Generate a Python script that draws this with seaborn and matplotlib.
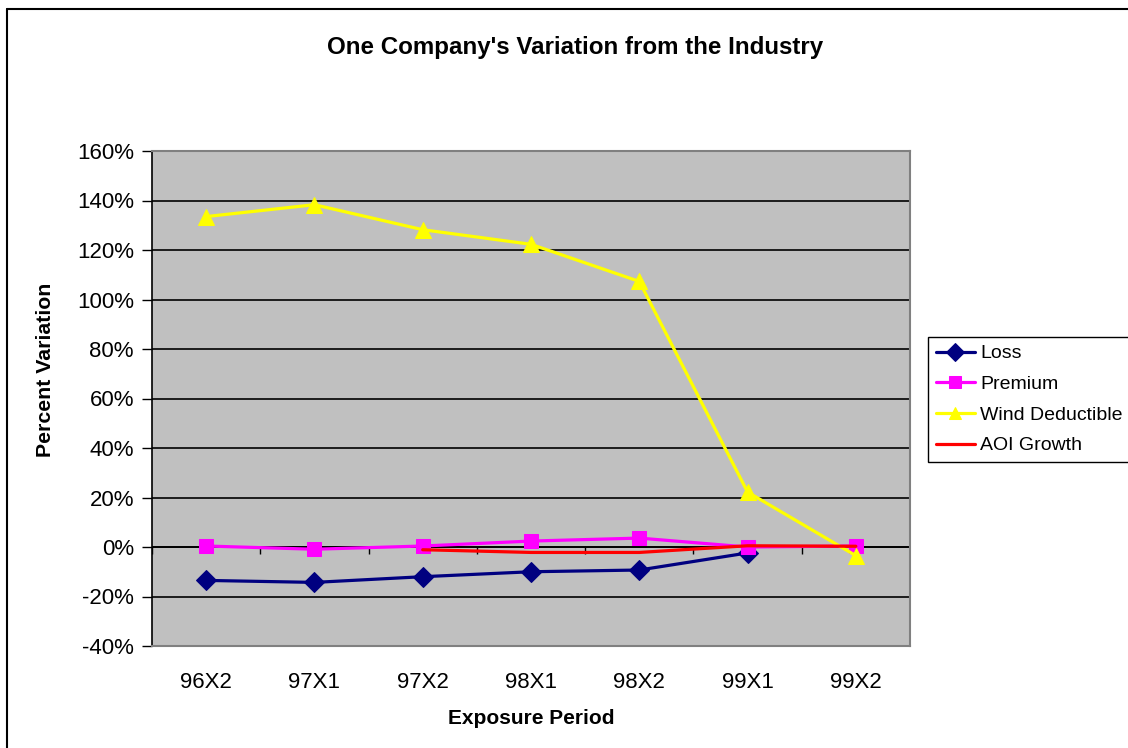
import numpy as np
import pandas as pd
import matplotlib
matplotlib.use("Agg")
import matplotlib.pyplot as plt
import matplotlib.ticker as mtick
from matplotlib.lines import Line2D
import seaborn as sns

# ---------------- DATA ----------------
periods = ["96X2", "97X1", "97X2", "98X1", "98X2", "99X1", "99X2"]
loss = [-0.135, -0.143, -0.120, -0.100, -0.093, -0.024, np.nan]
premium = [0.004, -0.009, 0.004, 0.024, 0.036, 0.000, 0.004]
wind_deductible = [1.335, 1.383, 1.282, 1.223, 1.073, 0.222, -0.035]
aoi_growth = [np.nan, np.nan, -0.011, -0.022, -0.022, 0.005, 0.003]
y_ticks = [-0.4, -0.2, 0.0, 0.2, 0.4, 0.6, 0.8, 1.0, 1.2, 1.4, 1.6]
# --------------------------------------

series = [
    ("Loss", loss, "#000080", "D", 10),
    ("Premium", premium, "#FF00FF", "s", 10),
    ("Wind Deductible", wind_deductible, "#FFFF00", "^", 11),
    ("AOI Growth", aoi_growth, "#FF0000", "", 0),
]

sns.set_style("white")
plt.rcParams["font.family"] = ["Liberation Sans", "DejaVu Sans"]
plt.rcParams["text.color"] = "black"
plt.rcParams["xtick.color"] = "black"
plt.rcParams["ytick.color"] = "black"
plt.rcParams["axes.unicode_minus"] = False

fig = plt.figure(figsize=(11.28, 7.48), dpi=100)
ax = fig.add_axes([152 / 1128, 1 - 646 / 748, (910 - 152) / 1128, (646 - 151) / 748])
ax.set_facecolor("#C0C0C0")

for name, vals, color, marker, ms in series:
    df = pd.DataFrame({"period": periods, "value": vals})
    sns.lineplot(
        data=df, x="period", y="value", ax=ax, sort=False,
        color=color, lw=2.3, marker=marker if marker else None,
        markersize=ms, markeredgecolor=color, markerfacecolor=color,
        label=name, zorder=3,
    )

ax.set_xlim(-0.5, 6.5)
ax.set_ylim(-0.4, 1.6)
ax.set_yticks(y_ticks)
ax.yaxis.set_major_formatter(mtick.PercentFormatter(1.0, decimals=0))
ax.yaxis.grid(True, color="black", lw=1.2)
ax.set_axisbelow(True)
ax.axhline(0, color="black", lw=1.3, zorder=2)
# category tick marks on the zero line
ax.vlines(np.arange(-0.5, 7, 1), -0.027, 0, color="black", lw=1, zorder=2)

ax.tick_params(axis="y", length=7, width=1, color="black", pad=6, labelsize=16, left=True)
ax.tick_params(axis="x", length=0, pad=19, labelsize=16)
ax.set_xlabel("")
ax.set_ylabel("")

for side in ["top", "right", "bottom"]:
    ax.spines[side].set_color("#808080")
    ax.spines[side].set_linewidth(1.5)
ax.spines["left"].set_color("black")
ax.spines["left"].set_linewidth(1.2)

fig.text(0.51, 0.937, "One Company's Variation from the Industry",
         ha="center", va="center", fontsize=17.4, fontweight="bold")
fig.text(0.471, 0.040, "Exposure Period", ha="center", va="center",
         fontsize=15, fontweight="bold")
fig.text(0.040, 0.505, "Percent Variation", ha="center", va="center",
         rotation=90, fontsize=15.3, fontweight="bold")

leg = ax.legend(
    loc="upper left", bbox_to_anchor=(928 / 1128, 1 - 337 / 748),
    bbox_transform=fig.transFigure, borderaxespad=0, frameon=True,
    fancybox=False, framealpha=1, edgecolor="black", fontsize=14,
    handlelength=2.0, handletextpad=0.3, labelspacing=0.67, borderpad=0.4,
)
leg.get_frame().set_linewidth(1.0)
for h in leg.legend_handles:
    h.set_markersize(9)

# outer chart border
fig.add_artist(Line2D([7 / 1128, 7 / 1128], [0, 1 - 9 / 748], transform=fig.transFigure,
                      color="black", lw=1.5))
fig.add_artist(Line2D([7 / 1128, 1], [1 - 9 / 748, 1 - 9 / 748], transform=fig.transFigure,
                      color="black", lw=1.5))

fig.savefig("out.png", dpi=100)
